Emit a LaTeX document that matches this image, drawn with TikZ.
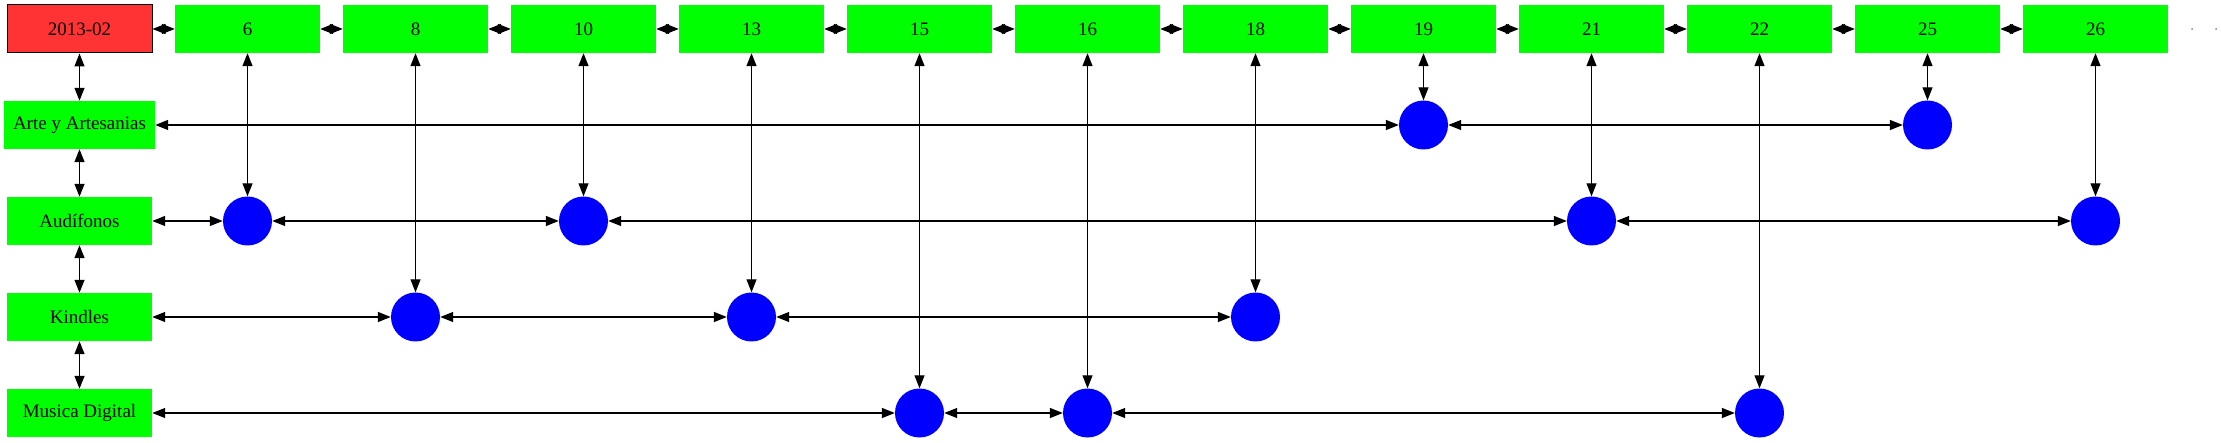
\documentclass[tikz,border=0pt]{standalone}
\usepackage{fontspec}
\setmainfont{Liberation Serif}
\usetikzlibrary{arrows.meta,positioning}
\definecolor{monthred}{RGB}{255,51,51}

\begin{document}
\begin{tikzpicture}[x=1pt,y=-1pt,
        week/.style = {fill=green, minimum width=145pt, minimum height=48pt, inner sep=0pt, font=\fontsize{19}{21}\selectfont},
        month/.style = {week, fill=monthred, draw=black, line width=1pt},
        sale/.style = {circle, fill=blue, minimum size=49pt, inner sep=0pt},
        link/.style = {{Triangle[length=13pt,width=10pt]}-{Triangle[length=13pt,width=10pt]}, line width=1.3pt},
        tick/.style = {circle, fill=gray, minimum size=2pt, inner sep=0pt},]
        \useasboundingbox (0,0) rectangle (2221,443);
        % top row
        \node[month] (m0) at (79.5,29) {2013-02};
        \node[week] (w6) at (247.5,29) {6};
        \node[week] (w8) at (415.5,29) {8};
        \node[week] (w10) at (583.5,29) {10};
        \node[week] (w13) at (751.5,29) {13};
        \node[week] (w15) at (919.5,29) {15};
        \node[week] (w16) at (1087.5,29) {16};
        \node[week] (w18) at (1255.5,29) {18};
        \node[week] (w19) at (1423.5,29) {19};
        \node[week] (w21) at (1591.5,29) {21};
        \node[week] (w22) at (1759.5,29) {22};
        \node[week] (w25) at (1927.5,29) {25};
        \node[week] (w26) at (2095.5,29) {26};
        \node[tick] (t1) at (2192,29) {};
        \node[tick] (t2) at (2216,29) {};

        % categories
        \node[week, minimum width=151pt] (arte) at (79.5,125) {Arte y Artesanias};
        \node[week] (audi) at (79.5,221) {Audífonos};
        \node[week] (kind) at (79.5,317) {Kindles};
        \node[week] (musi) at (79.5,413) {Musica Digital};

        % sales
        \node[sale] (a19) at (1423.5,125) {};
        \node[sale] (a25) at (1927.5,125) {};
        \node[sale] (b6) at (247.5,221) {};
        \node[sale] (b10) at (583.5,221) {};
        \node[sale] (b21) at (1591.5,221) {};
        \node[sale] (b26) at (2095.5,221) {};
        \node[sale] (k8) at (415.5,317) {};
        \node[sale] (k13) at (751.5,317) {};
        \node[sale] (k18) at (1255.5,317) {};
        \node[sale] (d15) at (919.5,413) {};
        \node[sale] (d16) at (1087.5,413) {};
        \node[sale] (d22) at (1759.5,413) {};

        \draw[link] (m0) -- (w6);
        \draw[link] (w6) -- (w8);
        \draw[link] (w8) -- (w10);
        \draw[link] (w10) -- (w13);
        \draw[link] (w13) -- (w15);
        \draw[link] (w15) -- (w16);
        \draw[link] (w16) -- (w18);
        \draw[link] (w18) -- (w19);
        \draw[link] (w19) -- (w21);
        \draw[link] (w21) -- (w22);
        \draw[link] (w22) -- (w25);
        \draw[link] (w25) -- (w26);

        \draw[link] (m0) -- (arte);
        \draw[link] (arte) -- (audi);
        \draw[link] (audi) -- (kind);
        \draw[link] (kind) -- (musi);

        \draw[link] (arte) -- (a19);
        \draw[link] (a19) -- (a25);
        \draw[link] (audi) -- (b6);
        \draw[link] (b6) -- (b10);
        \draw[link] (b10) -- (b21);
        \draw[link] (b21) -- (b26);
        \draw[link] (kind) -- (k8);
        \draw[link] (k8) -- (k13);
        \draw[link] (k13) -- (k18);
        \draw[link] (musi) -- (d15);
        \draw[link] (d15) -- (d16);
        \draw[link] (d16) -- (d22);

        \draw[link] (w6) -- (b6);
        \draw[link] (w8) -- (k8);
        \draw[link] (w10) -- (b10);
        \draw[link] (w13) -- (k13);
        \draw[link] (w15) -- (d15);
        \draw[link] (w16) -- (d16);
        \draw[link] (w18) -- (k18);
        \draw[link] (w19) -- (a19);
        \draw[link] (w21) -- (b21);
        \draw[link] (w22) -- (d22);
        \draw[link] (w25) -- (a25);
        \draw[link] (w26) -- (b26);
    \end{tikzpicture}
\end{document}
